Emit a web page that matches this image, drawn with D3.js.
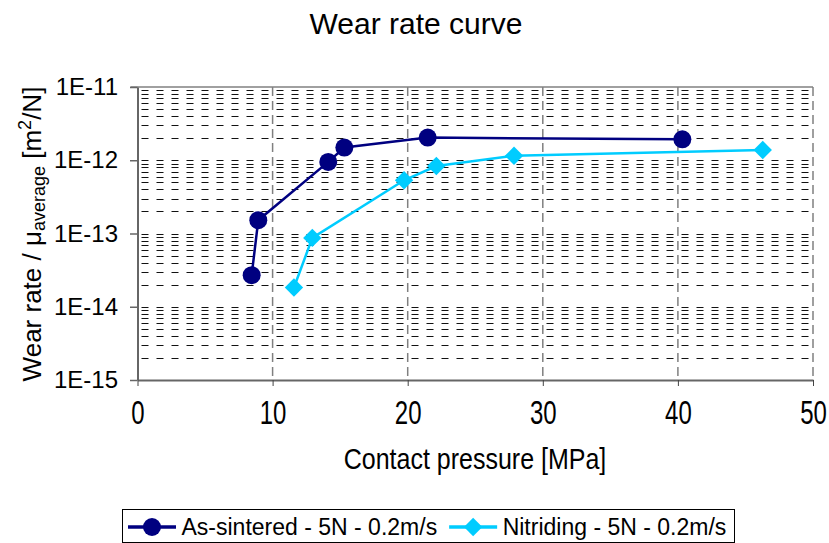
<!DOCTYPE html>
<html>
<head>
<meta charset="utf-8">
<script src="https://cdn.jsdelivr.net/npm/d3@7"></script>
<style>
  html, body { margin: 0; padding: 0; background: #fff; }
  svg { display: block; font-family: "Liberation Sans", Arial, sans-serif; }
</style>
</head>
<body>
<svg id="chart" width="829" height="543"></svg>
<script>
// Wear rate vs contact pressure, two surface treatments
const seriesNames = ["As-sintered - 5N - 0.2m/s", "Nitriding - 5N - 0.2m/s"];
const pressureSintered = [8.45, 8.94, 14.12, 15.31, 21.48, 40.33];
const wearSintered = [2.7e-14, 1.52e-13, 9.5e-13, 1.49e-12, 2.04e-12, 1.93e-12];
const pressureNitriding = [11.58, 12.94, 19.73, 22.12, 27.87, 46.28];
const wearNitriding = [1.83e-14, 8.7e-14, 5.33e-13, 8.35e-13, 1.15e-12, 1.38e-12];
const xTicks = [0, 10, 20, 30, 40, 50];
const yTicks = [1e-15, 1e-14, 1e-13, 1e-12, 1e-11];
const yTickLabels = ["1E-15", "1E-14", "1E-13", "1E-12", "1E-11"];

const colors = ["#000080", "#00CCFF"];

const svg = d3.select("#chart");
const plot = { left: 137.5, right: 813, top: 87, bottom: 380 };

const x = d3.scaleLinear().domain([0, 50]).range([plot.left, plot.right]);
const y = d3.scaleLog().domain([1e-15, 1e-11]).range([plot.bottom, plot.top]);

// minor horizontal grid: every k * 10^n
const minorVals = [];
for (let e = -15; e < -11; e++) {
  for (let k = 1; k <= 9; k++) minorVals.push(k * Math.pow(10, e));
}
svg.append("g").selectAll("line").data(minorVals).join("line")
  .attr("x1", plot.left).attr("x2", plot.right)
  .attr("y1", d => Math.round(y(d)) + 0.5).attr("y2", d => Math.round(y(d)) + 0.5)
  .attr("stroke", "#111").attr("stroke-width", 1)
  .attr("stroke-dasharray", "7,8").attr("stroke-dashoffset", -4);

// vertical grid at major x ticks
svg.append("g").selectAll("line").data(xTicks.slice(1)).join("line")
  .attr("x1", d => x(d)).attr("x2", d => x(d))
  .attr("y1", plot.top).attr("y2", plot.bottom)
  .attr("stroke", "#808080").attr("stroke-width", 1.5)
  .attr("stroke-dasharray", "9,5");

// top line at the upper axis limit
svg.append("line")
  .attr("x1", plot.left - 7).attr("x2", plot.right)
  .attr("y1", y(1e-11)).attr("y2", y(1e-11))
  .attr("stroke", "#808080").attr("stroke-width", 1.5);

// x axis
const xAxis = svg.append("g").attr("transform", `translate(0,${plot.bottom})`)
  .call(d3.axisBottom(x).tickValues(xTicks).tickSize(6).tickSizeOuter(0));
xAxis.select(".domain").attr("stroke", "#666").attr("stroke-width", 2);
xAxis.selectAll(".tick line").attr("stroke", "#444").attr("stroke-width", 1);
xAxis.selectAll(".tick text")
  .attr("y", 0).attr("dy", null)
  .attr("transform", "translate(0,44) scale(1,1.36)")
  .attr("font-size", 24).attr("fill", "#000")
  .attr("font-family", "Liberation Sans, Arial, sans-serif");

// y axis
const yAxis = svg.append("g").attr("transform", `translate(${plot.left},0)`)
  .call(d3.axisLeft(y).tickValues(yTicks).tickFormat((d, i) => yTickLabels[i])
    .tickSize(7.5).tickSizeOuter(0).tickPadding(12));
yAxis.select(".domain").attr("stroke", "#666").attr("stroke-width", 2);
yAxis.selectAll(".tick line").attr("stroke", "#666").attr("stroke-width", 1.5);
yAxis.selectAll(".tick text").attr("font-size", 24).attr("fill", "#000")
  .attr("font-family", "Liberation Sans, Arial, sans-serif");

// series
const series = [
  { xs: pressureSintered, ys: wearSintered, color: colors[0], shape: "circle" },
  { xs: pressureNitriding, ys: wearNitriding, color: colors[1], shape: "diamond" }
];
const line = d3.line().x(d => x(d[0])).y(d => y(d[1]));
const circleSym = d3.symbol().type(d3.symbolCircle).size(Math.PI * 9 * 9);
const diamondSym = d3.symbol().type(d3.symbolSquare).size(13 * 13);

series.forEach(s => {
  const pts = s.xs.map((v, i) => [v, s.ys[i]]);
  svg.append("path").datum(pts).attr("d", line)
    .attr("fill", "none").attr("stroke", s.color).attr("stroke-width", 2.5);
  svg.append("g").selectAll("path").data(pts).join("path")
    .attr("d", s.shape === "circle" ? circleSym : diamondSym)
    .attr("transform", d => `translate(${x(d[0])},${y(d[1])})` + (s.shape === "diamond" ? " rotate(45)" : ""))
    .attr("fill", s.color);
});

// title
svg.append("text").attr("x", 416).attr("y", 34).attr("text-anchor", "middle")
  .attr("font-size", 30).text("Wear rate curve");

// x axis title
svg.append("text").attr("text-anchor", "middle")
  .attr("transform", "translate(475,469) scale(1,1.15)")
  .attr("font-size", 25).text("Contact pressure [MPa]");

// y axis title with subscript and superscript
const yt = svg.append("text").attr("transform", "translate(41,234) rotate(-90)")
  .attr("text-anchor", "middle").attr("font-size", 26);
yt.append("tspan").text("Wear rate / \u03bc");
yt.append("tspan").attr("font-size", 18).attr("dy", 4).text("average");
yt.append("tspan").attr("dy", -4).text(" [m");
yt.append("tspan").attr("font-size", 18).attr("dy", -10).text("2");
yt.append("tspan").attr("dy", 10).text("/N]");

// legend
const lg = svg.append("g");
lg.append("rect").attr("x", 122.5).attr("y", 509.5).attr("width", 612).attr("height", 33)
  .attr("fill", "#fff").attr("stroke", "#000").attr("stroke-width", 1);
let lx = 128;
seriesNames.forEach((name, i) => {
  const cy = 527;
  const shape = i === 0 ? "circle" : "diamond";
  lg.append("line").attr("x1", lx).attr("x2", lx + 48).attr("y1", cy).attr("y2", cy)
    .attr("stroke", colors[i]).attr("stroke-width", 3.5);
  lg.append("path")
    .attr("d", shape === "circle" ? circleSym : diamondSym)
    .attr("transform", `translate(${lx + 24},${cy})` + (shape === "diamond" ? " rotate(45)" : ""))
    .attr("fill", colors[i]);
  const t = lg.append("text").attr("x", lx + 53.5).attr("y", 534.5).attr("font-size", 23).text(name);
  lx = lx + 53.5 + t.node().getComputedTextLength() + 12;
});
</script>
</body>
</html>
